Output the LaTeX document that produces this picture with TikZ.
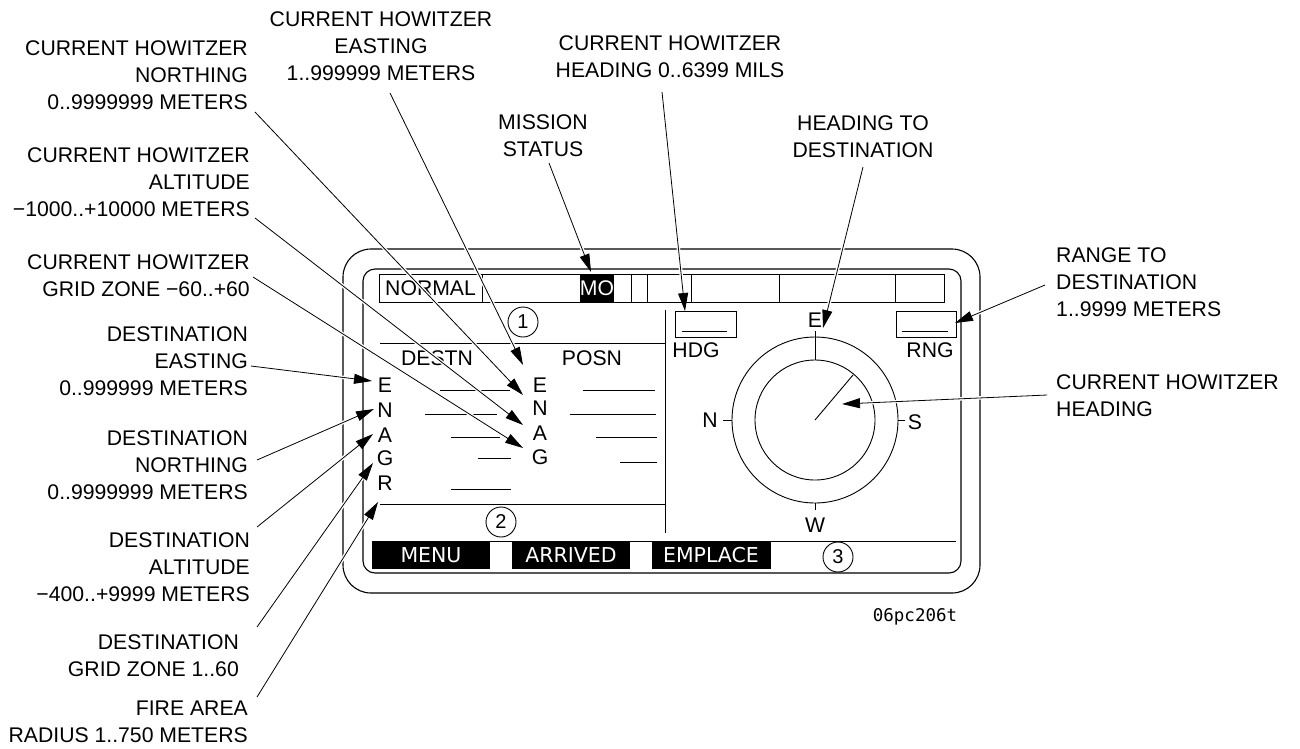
\documentclass[tikz,border=0pt]{standalone}
\usepackage{fontspec}
\setmainfont{Liberation Sans}
\newfontfamily\btnfont{DejaVu Sans}
\newfontfamily\codefont{DejaVu Sans Mono}
\usetikzlibrary{arrows.meta}
\begin{document}
\begin{tikzpicture}[x=1pt,y=-1pt,
  lab/.style={font=\fontsize{21.2}{27}\selectfont,inner sep=0pt,anchor=north},
  labL/.style={lab,align=right,anchor=north east},
  labC/.style={lab,align=center},
  labR/.style={lab,align=left,anchor=north west},
  txt/.style={font=\fontsize{21.2}{24}\selectfont,inner sep=0pt,text height=15.2pt,text depth=0pt},
  wtxt/.style={txt,text=white},
  btxt/.style={font=\btnfont\fontsize{20.5}{24}\selectfont,text=white,inner sep=0pt,text height=14.9pt,text depth=0pt},
  num/.style={circle,draw,line width=0.9pt,minimum size=30pt,inner sep=0pt,font=\fontsize{20}{24}\selectfont},
  frame/.style={line width=1.1pt},
  fine/.style={line width=0.9pt},
  call/.style={line width=0.8pt,-{Triangle[length=18pt,width=10pt]},
    preaction={draw=white,line width=3.5pt,-,shorten >=14pt}},
]
\useasboundingbox (0,0) rectangle (1300,748);

% ---------- screen frame ----------
\draw[frame,rounded corners=28pt] (343,249) rectangle (980,593);
\draw[frame,rounded corners=12pt] (363,269) rectangle (961,573);

% status bar
\draw[fine] (379,274) rectangle (944,302);
\foreach \x in {482,631,647,691,779,895} \draw[fine] (\x,274) -- (\x,302);
\fill (580,274) rectangle (614,302);
\node[txt,anchor=west] (normal) at (385,288) {NORMAL};
\node[wtxt] (mo) at (597,288) {MO};

% left panel
\draw[fine] (380,343) -- (665,343);
\draw[fine] (665,310) -- (665,533);
\draw[fine] (380,504) -- (665,504);
\draw[fine] (372,541) -- (956,541);

\node[num] (n1) at (523,322) {1};
\node[num] (n2) at (501,522) {2};
\node[num] (n3) at (838,557) {3};

\node[txt] (destn) at (437,358) {DESTN};
\node[txt] (posn) at (592,358) {POSN};

\node[txt] (lE) at (385,385) {E};
\node[txt] (lN) at (385,410) {N};
\node[txt] (lA) at (385,435) {A};
\node[txt] (lG) at (385,458) {G};
\node[txt] (lR) at (385,483) {R};
\node[txt] (rE) at (540,385) {E};
\node[txt] (rN) at (540,408) {N};
\node[txt] (rA) at (540,433) {A};
\node[txt] (rG) at (540,457) {G};

\draw[fine] (440,390) -- (510,390);
\draw[fine] (425,414) -- (497,414);
\draw[fine] (451,437) -- (500,437);
\draw[fine] (478,458) -- (511,458);
\draw[fine] (451,489) -- (511,489);
\draw[fine] (583,390) -- (655,390);
\draw[fine] (570,414) -- (656,414);
\draw[fine] (596,437) -- (657,437);
\draw[fine] (620,462) -- (657,462);

% right panel
\draw[fine] (675,311) rectangle (736,337);
\draw[fine] (682,331) -- (727,331);
\node[txt] (hdg) at (696,350) {HDG};
\draw[fine] (896,311) rectangle (956,337);
\draw[fine] (902,331) -- (948,331);
\node[txt] (rng) at (930,350) {RNG};

\coordinate (cc) at (815,420);
\draw[fine] (cc) circle[radius=83pt];
\draw[fine] (cc) circle[radius=60pt];
\draw[fine] (815,331) -- (815,360);
\draw[fine] (723,420) -- (732,420);
\draw[fine] (898,420) -- (905,420);
\draw[fine] (815,503) -- (815,510);
\draw[fine] (cc) -- (853,375);
\node[txt] (cE) at (815,320) {E};
\node[txt] (cN) at (710,420) {N};
\node[txt] (cS) at (915,422) {S};
\node[txt] (cW) at (815,525) {W};

% buttons
\fill (372,541) rectangle (490,569);
\node[btxt] (menu) at (431,555) {MENU};
\fill (512,541) rectangle (630,569);
\node[btxt] (arrived) at (571,555) {ARRIVED};
\fill (652,541) rectangle (771,569);
\node[btxt] (emplace) at (711,555) {EMPLACE};

\node[font=\codefont\fontsize{17.5}{20}\selectfont,inner sep=0pt] (code) at (915,617) {06pc206t};

% ---------- labels ----------
\node[labL] (lbNorth) at (248,40.5) {CURRENT HOWITZER\\NORTHING\\0..9999999 METERS};
\node[labL] (lbAlt) at (250,147.5) {CURRENT HOWITZER\\ALTITUDE\\−1000..+10000 METERS};
\node[labL] (lbGrid) at (250,254.5) {CURRENT HOWITZER\\GRID ZONE −60..+60};
\node[labL] (lbDE) at (248,326) {DESTINATION\\EASTING\\0..999999 METERS};
\node[labL] (lbDN) at (248,430.5) {DESTINATION\\NORTHING\\0..9999999 METERS};
\node[labL] (lbDA) at (250,532.5) {DESTINATION\\ALTITUDE\\−400..+9999 METERS};
\node[labL] (lbDG) at (239,634.5) {DESTINATION\\GRID ZONE 1..60};
\node[labL] (lbFire) at (248,700.5) {FIRE AREA\\RADIUS 1..750 METERS};

\node[labC] (lbCE) at (381,11) {CURRENT HOWITZER\\EASTING\\1..999999 METERS};
\node[labC] (lbMS) at (543,114.5) {MISSION\\STATUS};
\node[labC] (lbCH) at (670,35.5) {CURRENT HOWITZER\\HEADING 0..6399 MILS};
\node[labC] (lbHD) at (863,115.5) {HEADING TO\\DESTINATION};
\node[labR] (lbRng) at (1056,247.5) {RANGE TO\\DESTINATION\\1..9999 METERS};
\node[labR] (lbCHH) at (1056,374.5) {CURRENT HOWITZER\\HEADING};

% ---------- callout coordinates ----------
\coordinate (s1) at (255,112);  \coordinate (t1) at (523,395);
\coordinate (s2) at (255,218);  \coordinate (t2) at (523,425);
\coordinate (s3) at (253,277);  \coordinate (t3) at (523,448);
\coordinate (s4) at (251,366);  \coordinate (t4) at (372,381);
\coordinate (s5) at (257,460);  \coordinate (t5) at (374,409);
\coordinate (s6) at (257,527);  \coordinate (t6) at (373,434);
\coordinate (s7) at (257,627);  \coordinate (t7) at (373,463);
\coordinate (s8) at (257,697);  \coordinate (t8) at (378,502);
\coordinate (s9) at (390,93);   \coordinate (t9) at (523,365);
\coordinate (s10) at (549,163); \coordinate (t10) at (591,272);
\coordinate (s11) at (662,92);  \coordinate (t11) at (685,311);
\coordinate (s12) at (863,167); \coordinate (t12) at (823,328);
\coordinate (s13) at (1045,285);\coordinate (t13) at (955,323);
\coordinate (s14) at (1047,395);\coordinate (t14) at (842,404);

\foreach \i in {1,...,14} \draw[call] (s\i) -- (t\i);
\end{tikzpicture}
\end{document}
